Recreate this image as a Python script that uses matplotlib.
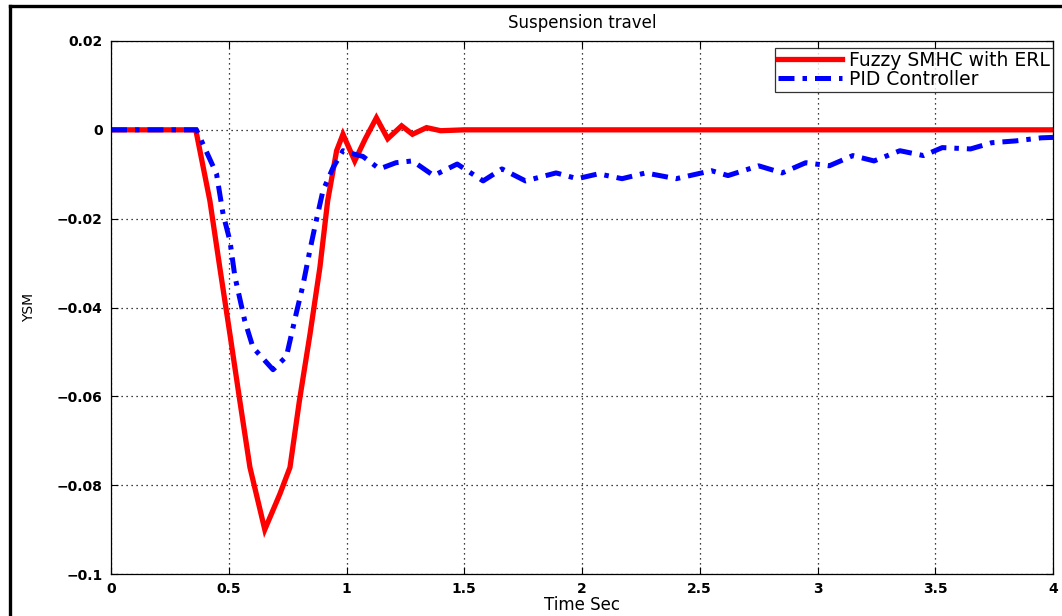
import matplotlib
matplotlib.use("Agg")
import matplotlib.pyplot as plt
from matplotlib.ticker import FuncFormatter
from matplotlib.lines import Line2D

# Fuzzy SMHC with ERL
t_fuzzy = [0.0, 0.36, 0.42, 0.462, 0.505, 0.547, 0.59, 0.653, 0.717, 0.76, 0.80,
           0.845, 0.887, 0.92, 0.958, 0.985, 1.035, 1.08, 1.127, 1.175, 1.234,
           1.28, 1.34, 1.40, 1.5, 2.0, 2.5, 3.0, 3.5, 4.0]
v_fuzzy = [0.0, 0.0, -0.016, -0.031, -0.046, -0.061, -0.076, -0.090, -0.082, -0.076, -0.061,
           -0.046, -0.031, -0.016, -0.0047, -0.001, -0.007, -0.002, 0.0027, -0.002, 0.0009,
           -0.001, 0.0005, -0.0002, 0.0, 0.0, 0.0, 0.0, 0.0, 0.0]

# PID Controller
t_pid = [0.0, 0.363, 0.448, 0.476, 0.505, 0.526, 0.547, 0.568, 0.603, 0.688, 0.745,
         0.788, 0.815, 0.845, 0.865, 0.90, 0.943, 0.985, 1.014, 1.07, 1.14, 1.21,
         1.28, 1.37, 1.47, 1.58, 1.66, 1.76, 1.89, 1.98, 2.07, 2.17, 2.27, 2.40,
         2.55, 2.62, 2.75, 2.85, 2.95, 3.05, 3.15, 3.24, 3.35, 3.45, 3.53, 3.65,
         3.74, 3.84, 3.95, 4.0]
v_pid = [0.0, 0.0, -0.0099, -0.019, -0.025, -0.033, -0.038, -0.043, -0.049, -0.054, -0.051,
         -0.041, -0.035, -0.027, -0.022, -0.0137, -0.0085, -0.0047, -0.0052, -0.006, -0.0088, -0.0074,
         -0.007, -0.0103, -0.0077, -0.0115, -0.0088, -0.0115, -0.0097, -0.011, -0.0099, -0.011, -0.0097, -0.011,
         -0.0092, -0.0103, -0.0081, -0.0097, -0.0074, -0.0081, -0.0058, -0.007, -0.0047, -0.0058, -0.004, -0.0043,
         -0.0029, -0.0025, -0.0018, -0.0017]

x_ticks = [0, 0.5, 1, 1.5, 2, 2.5, 3, 3.5, 4]
y_ticks = [-0.1, -0.08, -0.06, -0.04, -0.02, 0, 0.02]

fig = plt.figure(figsize=(10.62, 6.16), dpi=100)
ax = fig.add_axes([111/1062, 1 - 574/616, (1053 - 111)/1062, (574 - 41)/616])

ax.plot(t_fuzzy, v_fuzzy, color="#ff0000", lw=3.8, solid_joinstyle="miter",
        label="Fuzzy SMHC with ERL")
ax.plot(t_pid, v_pid, color="#0000ff", lw=3.6, linestyle=(0, (3.2, 1.6, 0.9, 1.6)),
        label="PID Controller")

ax.set_xlim(0, 4)
ax.set_ylim(-0.1, 0.02)
ax.set_xticks(x_ticks)
ax.set_yticks(y_ticks)
fmt = FuncFormatter(lambda v, p: ("%g" % v).replace("-", "\u2212"))
ax.xaxis.set_major_formatter(fmt)
ax.yaxis.set_major_formatter(fmt)
ax.tick_params(direction="in", top=True, right=True, length=5, width=0.8,
               labelsize=10, pad=6)
for lab in ax.get_xticklabels() + ax.get_yticklabels():
    lab.set_fontweight("bold")
ax.grid(True, linestyle=(0, (1, 3)), color="black", linewidth=0.9)
for s in ax.spines.values():
    s.set_linewidth(0.9)

ax.set_title("Suspension travel", fontsize=12, pad=9)
ax.set_xlabel("Time Sec", fontsize=12, labelpad=0)
ax.set_ylabel("YSM", fontsize=10, labelpad=15)

leg = ax.legend(loc="upper right", bbox_to_anchor=(1.0, 0.987), borderaxespad=0,
                fontsize=13.5, frameon=True, fancybox=False, handlelength=3.4,
                handletextpad=0.4, borderpad=0.15, labelspacing=0.0)
leg.get_frame().set_edgecolor("black")
leg.get_frame().set_linewidth(0.9)

# outer frame lines
fig.add_artist(Line2D([10/1062, 1.0], [1 - 6/616, 1 - 6/616], color="black",
                      lw=2.4, transform=fig.transFigure))
fig.add_artist(Line2D([10/1062, 10/1062], [0.0, 1 - 6/616], color="black",
                      lw=2.4, transform=fig.transFigure))

fig.savefig("out.png", dpi=100)
